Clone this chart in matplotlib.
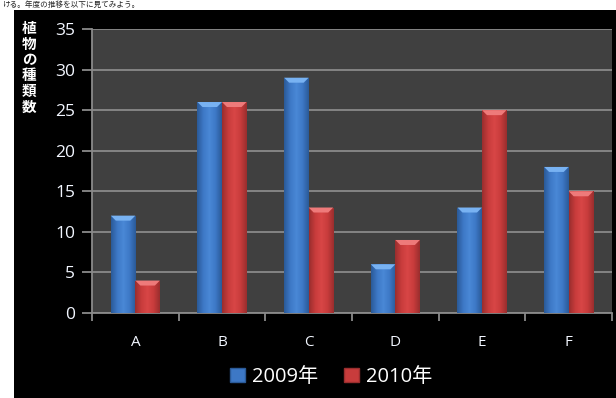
import numpy as np
import matplotlib
matplotlib.use("Agg")
import matplotlib.pyplot as plt
from matplotlib.patches import Rectangle, Polygon, Patch
from matplotlib.colors import LinearSegmentedColormap

# Data
categories = ["A", "B", "C", "D", "E", "F"]
series_names = ["2009年", "2010年"]
values_2009 = [12, 26, 29, 6, 13, 18]
values_2010 = [4, 26, 13, 9, 25, 15]
y_ticks = [0, 5, 10, 15, 20, 25, 30, 35]
y_label = "植物の種類数"
caption = "ける。年度の推移を以下に見てみよう。"

plt.rcParams["font.family"] = ["Open Sans", "Noto Sans CJK JP", "DejaVu Sans"]

W, H = 616, 398
fig = plt.figure(figsize=(W / 100, H / 100), dpi=100)
fig.patch.set_facecolor("white")

# Black chart frame
fig.patches.append(Rectangle((14 / W, 0), 1 - 14 / W, (H - 10) / H,
                             transform=fig.transFigure, facecolor="black",
                             edgecolor="none", zorder=-5))

# Running caption text in the strip above the chart frame
fig.text(2 / W, 1 - 5 / H, caption, ha="left", va="center", fontsize=5.5,
         color="#222222", family=["Noto Sans CJK JP"])

ax = fig.add_axes([92 / W, 85 / H, (612 - 92) / W, (313 - 29) / H])
ax.set_zorder(2)
ax.set_facecolor("#404040")
ax.set_xlim(-0.5, len(categories) - 0.5)
ax.set_ylim(0, 35)

grid_color = "#8a8a8a"
ax.set_yticks(y_ticks)
ax.yaxis.grid(True, color=grid_color, linewidth=1.3)
ax.set_axisbelow(True)
for s in ["top", "right"]:
    ax.spines[s].set_visible(False)
for s in ["left", "bottom"]:
    ax.spines[s].set_color(grid_color)
    ax.spines[s].set_linewidth(1.3)

ax.set_xticks(range(len(categories)))
ax.set_xticklabels(categories)
ax.set_xticks(np.arange(-0.5, len(categories), 1.0), minor=True)
ax.tick_params(axis="x", which="major", length=0, pad=16, labelsize=11,
               labelcolor="#f2f6ff")
ax.tick_params(axis="x", which="minor", length=6, width=1.3, color=grid_color,
               direction="out")
ax.tick_params(axis="y", length=7, width=1.3, color=grid_color, pad=5,
               labelsize=12.5, labelcolor="#f2f6ff")
ax.set_xticklabels([], minor=True)

# Bars with a horizontal shading and bevelled top
blue_cmap = LinearSegmentedColormap.from_list(
    "b", ["#2b5a98", "#3d78c6", "#4a88d6", "#3d78c6", "#2b5a98"])
red_cmap = LinearSegmentedColormap.from_list(
    "r", ["#9a2e2e", "#c83c3c", "#d84646", "#c83c3c", "#9a2e2e"])
bevel_colors = {"b": "#78b2f2", "r": "#ee7a7a"}

width = 0.283
x = np.arange(len(categories))
grad = np.linspace(0, 1, 64).reshape(1, -1)
px_per_unit_y = (313 - 29) / 35
px_per_unit_x = (612 - 92) / len(categories)
bev_h = 5 / px_per_unit_y
bev_w = 5 / px_per_unit_x

for vals, off, cmap, key in [(values_2009, -width / 2, blue_cmap, "b"),
                             (values_2010, width / 2, red_cmap, "r")]:
    bars = ax.bar(x + off, vals, width=width, color="none",
                  edgecolor="none", zorder=3)
    for b in bars:
        x0, w, h = b.get_x(), b.get_width(), b.get_height()
        im = ax.imshow(grad, cmap=cmap, aspect="auto",
                       extent=[x0, x0 + w, 0, h], zorder=3)
        im.set_clip_path(b)
        ax.add_patch(Polygon([[x0, h], [x0 + w, h], [x0 + w - bev_w, h - bev_h],
                              [x0 + bev_w, h - bev_h]], closed=True,
                             facecolor=bevel_colors[key], edgecolor="none",
                             zorder=4))
ax.set_xlim(-0.5, len(categories) - 0.5)
ax.set_ylim(0, 35)

# Vertical axis title, one character per line
fig.text(29 / W, 1 - 20 / H, "\n".join(y_label), ha="center", va="top",
         fontsize=10.5, fontweight="bold", color="white", linespacing=0.98,
         family=["Noto Sans CJK JP"])

handles = [Patch(facecolor="#3d78c6", edgecolor="#2b5a98"),
           Patch(facecolor="#c83c3c", edgecolor="#9a2e2e")]
leg = fig.legend(handles, series_names, loc="center",
                 bbox_to_anchor=(331 / W, 21 / H), ncol=2, frameon=False,
                 fontsize=14.5, labelcolor="white", handlelength=0.75,
                 handleheight=0.75, handletextpad=0.35, columnspacing=1.3)

fig.savefig("out.png", dpi=100, facecolor=fig.get_facecolor())
